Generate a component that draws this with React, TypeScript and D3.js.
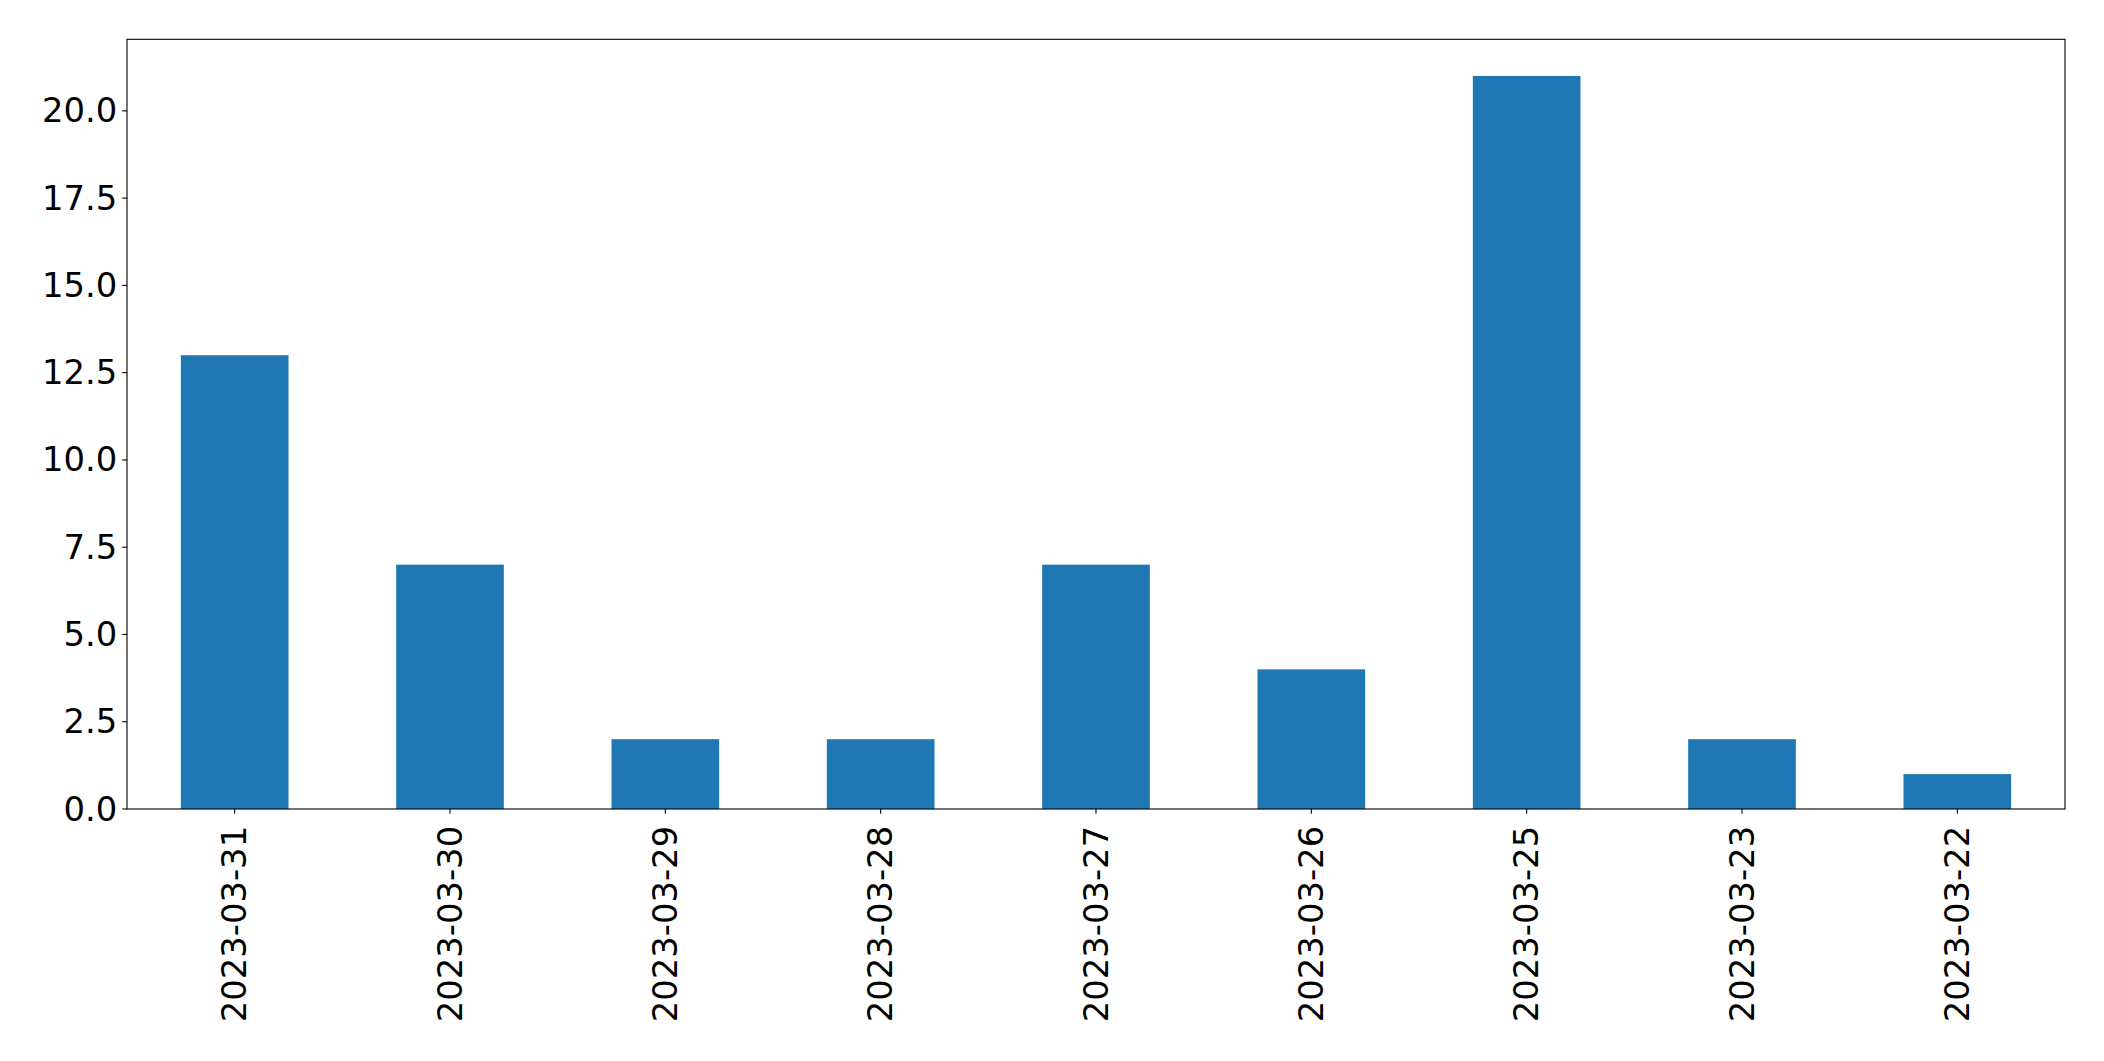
import React from "react";
import * as d3 from "d3";

const categories = ["2023-03-31", "2023-03-30", "2023-03-29", "2023-03-28", "2023-03-27", "2023-03-26", "2023-03-25", "2023-03-23", "2023-03-22"];
const values = [13, 7, 2, 2, 7, 4, 21, 2, 1];
const yTicks = [0, 2.5, 5, 7.5, 10, 12.5, 15, 17.5, 20];

const W = 2104, H = 1061;
const L = 127, R = 2065, T = 39.3, B = 809;
const FONT = "DejaVu Sans";
const FS = 33.8;
const TICK = 4.86;

export default function App() {
  const x = d3.scaleBand<string>().domain(categories).range([L, R]).paddingInner(0.5).paddingOuter(0.25);
  const yMax = d3.max(values)! * 1.05;
  const y = d3.scaleLinear().domain([0, yMax]).range([B, T]);
  return (
    <svg width={W} height={H} style={{ position: "absolute", left: 0, top: 0, background: "#fff" }}>
      <rect x={0} y={0} width={W} height={H} fill="#fff" />
      {categories.map((c, i) => (
        <rect key={c} x={x(c)!} y={y(values[i])} width={x.bandwidth()} height={B - y(values[i])} fill="#1f77b4" />
      ))}
      <rect x={L} y={T} width={R - L} height={B - T} fill="none" stroke="#000" strokeWidth={1.1} />
      {yTicks.map((t) => (
        <g key={t}>
          <line x1={L - TICK} x2={L} y1={y(t)} y2={y(t)} stroke="#000" strokeWidth={1.1} />
          <text x={L - TICK - 4.86} y={y(t)} textAnchor="end" dominantBaseline="central" fontFamily={FONT} fontSize={FS} fill="#000">
            {t.toFixed(1)}
          </text>
        </g>
      ))}
      {categories.map((c) => {
        const cx = x(c)! + x.bandwidth() / 2;
        const ty = B + TICK + 12;
        return (
          <g key={c}>
            <line x1={cx} x2={cx} y1={B} y2={B + TICK} stroke="#000" strokeWidth={1.1} />
            <text transform={`translate(${cx},${ty}) rotate(-90)`} textAnchor="end" dominantBaseline="central" fontFamily={FONT} fontSize={FS} fill="#000">
              {c}
            </text>
          </g>
        );
      })}
    </svg>
  );
}
